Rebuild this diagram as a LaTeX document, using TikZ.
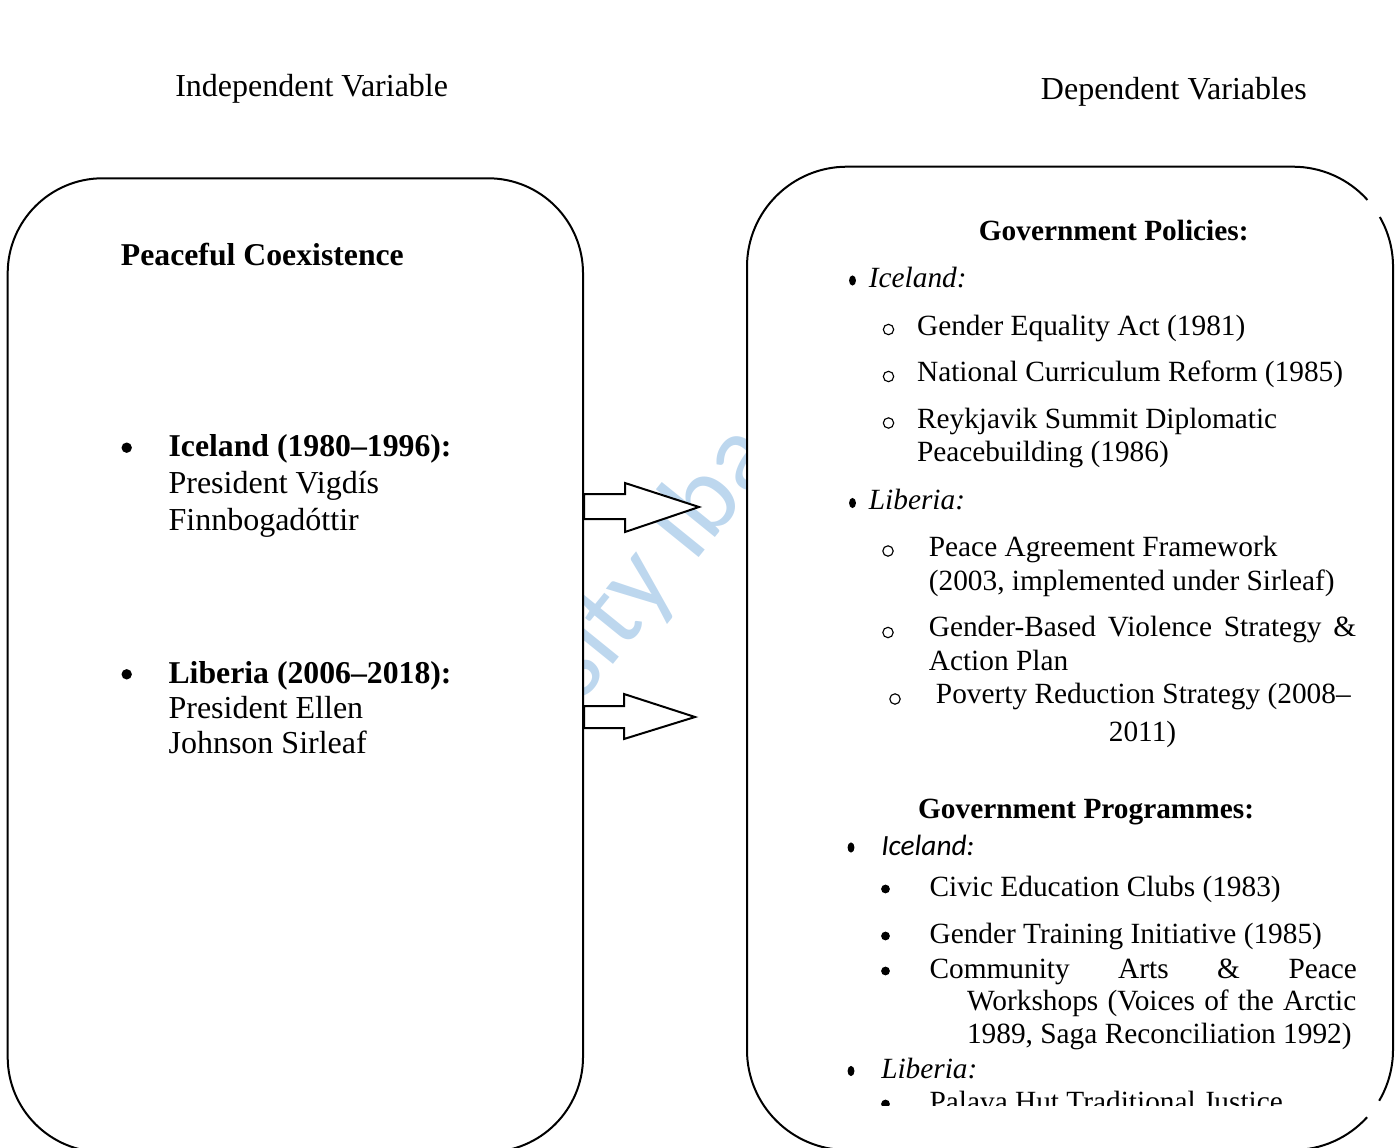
\documentclass[tikz,border=0pt]{standalone}
\usepackage{fontspec}
\setmainfont{Liberation Serif}
\newfontfamily\calfont{Carlito}
\usetikzlibrary{calc,shapes.geometric}
\definecolor{wmblue}{RGB}{189,215,238}
\begin{document}
\begin{tikzpicture}[x=0.75pt,y=-0.75pt,
  lt/.style={anchor=base west,inner sep=0pt,font=\fontsize{24}{27}\selectfont},
  ltb/.style={anchor=base west,inner sep=0pt,font=\fontsize{23.8}{27}\selectfont\bfseries},
  rt/.style={anchor=base west,inner sep=0pt,font=\fontsize{22}{25}\selectfont},
  rtb/.style={anchor=base west,inner sep=0pt,font=\fontsize{22}{25}\selectfont\bfseries},
  rti/.style={anchor=base west,inner sep=0pt,font=\fontsize{22}{25}\selectfont\itshape},
  rci/.style={anchor=base west,inner sep=0pt,font=\calfont\fontsize{22}{25}\selectfont\itshape},
  ldot/.style={circle,fill=black,inner sep=0pt,minimum size=7.8pt},
  rdot/.style={circle,fill=black,inner sep=0pt,minimum size=6.6pt},
  ocirc/.style={circle,draw=black,line width=0.85pt,inner sep=0pt,minimum size=7.8pt},
  sqb/.style={ellipse,fill=black,inner sep=0pt,minimum width=5.2pt,minimum height=7.6pt},
  boxline/.style={line width=1.5pt,draw=black},
  blockarr/.style={line width=1.5pt,draw=black,fill=white,line join=miter},
  wm/.style={anchor=base west,inner sep=0pt,rotate=51,text=wmblue,font=\calfont\fontsize{82}{90}\selectfont}
]
\useasboundingbox (0,0) rectangle (1400,1148);
\clip (0,0) rectangle (1400,1148);

% watermark (visible only between the boxes)
\node[wm] (wmark) at (581,704) {sity Ibad};

% boxes
\node[boxline,fill=white,rectangle,rounded corners=71.25pt,inner sep=0pt,
      minimum width=431.5pt,minimum height=730.3pt] (lbox) at (295.35,665.15) {};
\node[fill=white,rectangle,rounded corners=75pt,inner sep=0pt,
      minimum width=484.5pt,minimum height=737.5pt] (rbox) at (1070,658.35) {};
\draw[boxline] (1379.8,217) arc[start angle=-29.8,end angle=0,radius=100]
  -- (1393,1050) arc[start angle=0,end angle=30.5,radius=100];
\draw[boxline] (1367.1,1117.2) arc[start angle=42.2,end angle=90,radius=100]
  -- (847,1150) arc[start angle=90,end angle=180,radius=100]
  -- (747,266.7) arc[start angle=180,end angle=270,radius=100]
  -- (1293,166.7) arc[start angle=270,end angle=318.1,radius=100];

% block arrows from the left box towards the right box
\draw[blockarr] (lbox.east |- 0,494) -- ++(41,0) -- ++(0,-11) -- ++(74,24)
  -- ++(-74,25) -- ++(0,-13) -- ++(-41,0) -- cycle;
\draw[blockarr] (lbox.east |- 0,706) -- ++(40,0) -- ++(0,-12) -- ++(71,23)
  -- ++(-71,22) -- ++(0,-11) -- ++(-40,0) -- cycle;

% headings
\node[lt] (hiv) at (175,96.7) {Independent Variable};
\node[lt] (hdv) at (1040.7,99.3) {Dependent Variables};

% left box content
\node[ltb] (pc) at (120.7,266) {Peaceful Coexistence};
\node[ldot] (lb1) at (126.7,447.7) {};
\node[ltb] (l1a) at (168.3,456.7) {Iceland (1980–1996):};
\node[lt] (l1b) at (168.3,493.3) {President Vigdís};
\node[lt] (l1c) at (168.3,530) {Finnbogadóttir};
\node[ldot] (lb2) at (126.7,674.3) {};
\node[ltb] (l2a) at (168.3,683.3) {Liberia (2006–2018):};
\node[lt] (l2b) at (168.3,718.3) {President Ellen};
\node[lt] (l2c) at (168.3,753.3) {Johnson Sirleaf};

% right box: policies
\node[rtb] (gpol) at (978.6,240.7) {Government Policies:};
\node[sqb] (s1) at (852.5,280.5) {};
\node[rti] (pi) at (868.6,287.3) {Iceland:};
\node[ocirc] (o1) at (888.5,329.5) {};
\node[rt] (p1) at (916.8,335) {Gender Equality Act (1981)};
\node[ocirc] (o2) at (888.5,376.5) {};
\node[rt] (p2) at (916.8,381.7) {National Curriculum Reform (1985)};
\node[ocirc] (o3) at (888.5,423) {};
\node[rt] (p3a) at (916.8,428) {Reykjavik Summit Diplomatic};
\node[rt] (p3b) at (916.8,461) {Peacebuilding (1986)};
\node[sqb] (s2) at (852.5,503) {};
\node[rti] (pl) at (868.6,509.3) {Liberia:};
\node[ocirc] (o4) at (888,551) {};
\node[rt] (p4a) at (928.6,556.7) {Peace Agreement Framework};
\node[rt] (p4b) at (928.6,590) {(2003, implemented under Sirleaf)};
\node[ocirc] (o5) at (888,632.5) {};
\node[rt] (p5a) at (928.6,636.7) {\hbox to 320.5pt{Gender-Based\hfill Violence\hfill Strategy\hfill \&}};
\node[rt] (p5b) at (928.6,670) {Action Plan};
\node[ocirc] (o6) at (895,699) {};
\node[rt] (p6a) at (935.7,703) {Poverty Reduction Strategy (2008–};
\node[rt] (p6b) at (1108.6,741.7) {2011)};

% right box: programmes
\node[rtb] (gprog) at (917.9,818.3) {Government Programmes:};
\node[sqb] (s3) at (851,847.5) {};
\node[rci] (gi) at (881,855) {Iceland:};
\node[rdot] (d1) at (885.5,889) {};
\node[rt] (g1) at (929.3,896.7) {Civic Education Clubs (1983)};
\node[rdot] (d2) at (885.5,936) {};
\node[rt] (g2) at (929.3,943.3) {Gender Training Initiative (1985)};
\node[rdot] (d3) at (885.5,971) {};
\node[rt] (g3a) at (929.3,978.3) {\hbox to 320.5pt{Community\hfill Arts\hfill \&\hfill Peace}};
\node[rt] (g3b) at (966.8,1010) {\hbox to 292pt{Workshops (Voices of the Arctic}};
\node[rt] (g3c) at (966.8,1043.3) {1989, Saga Reconciliation 1992)};
\node[sqb] (s4) at (851,1071) {};
\node[rti] (gl) at (881,1078.3) {Liberia:};
\begin{scope}
  \clip (800,1060) rectangle (1390,1105);
  \node[rdot] (d4) at (885.5,1104) {};
  \node[rt] (g4) at (929.3,1111) {Palava Hut Traditional Justice};
\end{scope}
\end{tikzpicture}
\end{document}
